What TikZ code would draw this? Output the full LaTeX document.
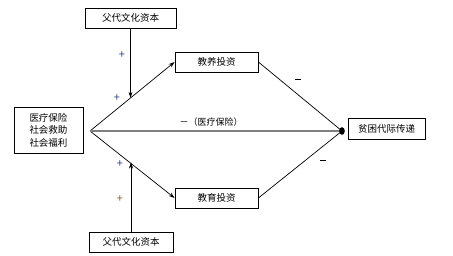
\documentclass[tikz,border=0pt]{standalone}
\usepackage{fontspec}
\setmainfont{Noto Sans CJK SC}
\usetikzlibrary{arrows.meta,calc}
\definecolor{plusblue}{RGB}{40,60,130}
\definecolor{plusbrown}{RGB}{140,85,30}
\begin{document}
\begin{tikzpicture}[x=1pt,y=-1pt,
  box/.style={draw,line width=0.8pt,minimum height=20pt,inner sep=0pt,font=\fontsize{9.5}{11}\selectfont},
  conn/.style={line width=0.7pt,-{Stealth[length=6pt,width=4pt]}},
  sinkline/.style={line width=0.7pt},
  sign/.style={font=\fontsize{11}{12}\selectfont,inner sep=0pt}]
\useasboundingbox (0,0) rectangle (453,256);
\node[box,minimum width=91pt] (topc) at (130.5,18) {父代文化资本};
\node[box,minimum width=69pt,minimum height=46pt,align=center,font=\fontsize{9.5}{12.5}\selectfont] (left) at (48.5,130) {医疗保险\\社会救助\\社会福利};
\node[box,minimum width=83pt] (jy) at (216.5,62) {教养投资};
\node[box,minimum width=83pt] (ed) at (216.5,198) {教育投资};
\node[box,minimum width=77pt,minimum height=21pt] (out) at (386.5,128.5) {贫困代际传递};
\node[box,minimum width=84pt] (botc) at (131,242) {父代文化资本};
\coordinate (hub) at (90,131);
\coordinate (sink) at (342,131);
\draw[conn] (hub) -- (jy.west);
\draw[conn] (hub) -- (ed.west);
\draw[sinkline] (jy.east) -- (sink);
\draw[sinkline] (ed.east) -- (sink);
\draw[line width=1.5pt,gray] (hub) -- (sink);
\fill (sink) ellipse (2.8pt and 3.8pt);
\coordinate (tp) at ($(hub)!0.48!(jy.west)$);
\coordinate (bp) at ($(hub)!0.47!(ed.west)$);
\draw[conn] (topc.south) -- (topc.south |- tp);
\draw[conn] (botc.north) -- (botc.north |- bp);
\node[sign,text=plusblue] (p1) at (122,55) {+};
\node[sign,text=plusblue] (p2) at (117,98) {+};
\node[sign,text=plusblue] (p3) at (120,164) {+};
\node[sign,text=plusbrown] (p4) at (120,199) {+};
\node[sign] (m1) at (298,79) {\rule{6.5pt}{0.9pt}};
\node[sign] (m2) at (323,160) {\rule{6.5pt}{0.9pt}};
\node[font=\fontsize{9}{10}\selectfont] (lab) at (211,122) {－（医疗保险）};
\end{tikzpicture}
\end{document}
